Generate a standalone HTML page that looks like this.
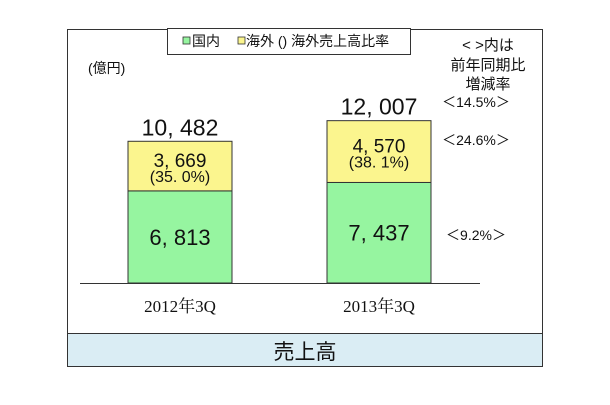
<!DOCTYPE html>
<html><head><meta charset="utf-8"><style>
body{margin:0;background:#fff;width:610px;height:400px;overflow:hidden;font-family:"Liberation Sans","Noto Sans CJK JP",sans-serif}
</style></head><body>
<svg width="610" height="400" font-family="Liberation Sans, Noto Sans CJK JP, sans-serif">
<rect x="67.5" y="29.5" width="475" height="337" fill="#fff" stroke="#333"/>
<rect x="67.5" y="333.5" width="475" height="33" fill="#daedf4" stroke="#333"/>
<text x="305" y="359" font-size="21" text-anchor="middle" fill="#111">売上高</text>
<g>
<rect x="167.5" y="28.5" width="243" height="26" fill="#fff" stroke="#333"/>
<rect x="183" y="37" width="7" height="7" fill="#96f5a0" stroke="#333" stroke-width="0.8"/>
<text x="192" y="46" font-size="14" fill="#111">国内</text>
<rect x="238" y="37" width="7" height="7" fill="#fbf58e" stroke="#333" stroke-width="0.8"/>
<text x="246" y="46" font-size="14" fill="#111">海外 () 海外売上高比率</text>
</g>
<text x="88" y="73" font-size="14" fill="#111">(億円)</text>
<g font-size="15" fill="#111" text-anchor="middle">
<text x="488" y="50">&lt; &gt;内は</text>
<text x="488" y="70">前年同期比</text>
<text x="488" y="89">増減率</text>
</g>
<g id="bars"></g>
<line x1="80" y1="283.5" x2="480" y2="283.5" stroke="#333"/>
</svg>
<script>
const categories=["2012年3Q","2013年3Q"];
const domestic=[6813,7437];
const overseas=[3669,4570];
const overseasRatio=["35. 0%","38. 1%"];
const totals=["10, 482","12, 007"];
const domesticLabels=["6, 813","7, 437"];
const overseasLabels=["3, 669","4, 570"];
const yoyLabels=["＜14.5%＞","＜24.6%＞","＜9.2%＞"];
const NS="http://www.w3.org/2000/svg";
const g=document.getElementById('bars');
const base=283, k=0.01352, bw=104, centers=[180,379];
const y=v=>base-v*k;
function mk(t,a){const e=document.createElementNS(NS,t);for(const n in a)e.setAttribute(n,a[n]);g.appendChild(e);return e;}
categories.forEach((c,i)=>{
 const x=centers[i]-bw/2;
 const yd=y(domestic[i]), yt=y(domestic[i]+overseas[i]);
 const r1=mk('rect',{x:x,y:yd,width:bw,height:base-yd,fill:'#96f5a0',stroke:'#333'});
 
 
 const r2=mk('rect',{x:x,y:yt,width:bw,height:yd-yt,fill:'#fbf58e',stroke:'#333'});
 
 
 const t1=mk('text',{x:centers[i],y:(yd+base)/2+8,'font-size':22,'text-anchor':'middle',fill:'#111'});t1.textContent=domesticLabels[i];
 
 
 const my=(yt+yd)/2;
 const t2=mk('text',{x:centers[i],y:my+1,'font-size':19,'text-anchor':'middle',fill:'#111'});t2.textContent=overseasLabels[i];
 
 
 const t3=mk('text',{x:centers[i],y:my+16,'font-size':16,'text-anchor':'middle',fill:'#111'});t3.textContent='('+overseasRatio[i]+')';
 
 
 const t4=mk('text',{x:centers[i],y:yt-6,'font-size':23,'text-anchor':'middle',fill:'#111'});t4.textContent=totals[i];
 
 
 const t5=mk('text',{x:centers[i],y:312,'font-size':17,'text-anchor':'middle',fill:'#111','font-family':'Liberation Serif, Noto Serif CJK SC, serif'});t5.textContent=c;
 
 
});
[107,145,240].forEach((py,i)=>{
 const t=mk('text',{x:476,y:py,'font-size':14,'text-anchor':'middle',fill:'#111'});t.textContent=yoyLabels[i];
 
 
});
</script>
</body></html>
